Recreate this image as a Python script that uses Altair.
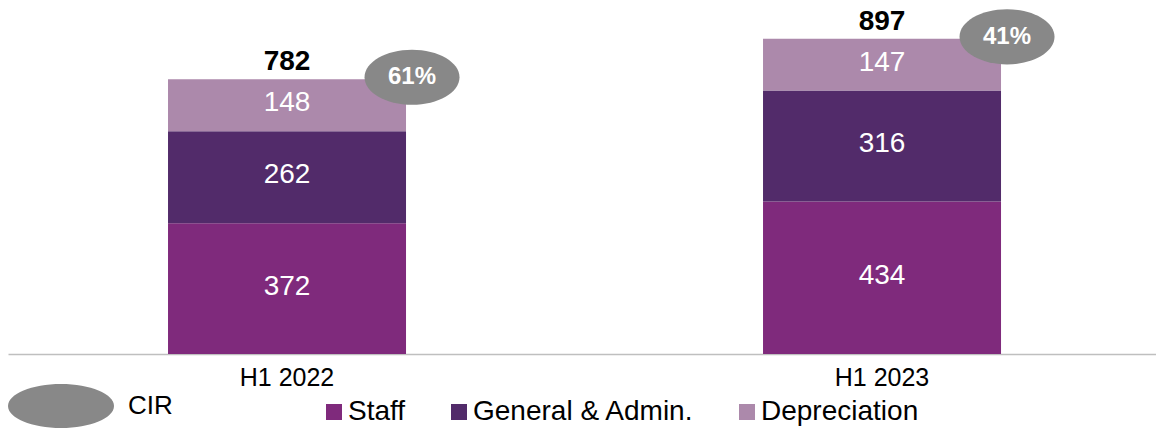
import altair as alt
import pandas as pd

periods = ["H1 2022", "H1 2023"]
categories = ["Staff", "General & Admin.", "Depreciation"]
staff = [372, 434]
gen_admin = [262, 316]
depreciation = [148, 147]
totals = [782, 897]
cir = ["61%", "41%"]
colors = ["#7F2A7C", "#522B6A", "#AC89AB"]
cir_color = "#888888"

rows = []
for i, p in enumerate(periods):
    for j, (c, vals) in enumerate(zip(categories, [staff, gen_admin, depreciation])):
        rows.append({"period": p, "category": c, "value": vals[i], "order": j})
df = pd.DataFrame(rows)
tot_df = pd.DataFrame({"period": periods, "total": totals, "cir": cir, "key": ["CIR"] * len(periods)})

FONT = "Liberation Sans"
ELLIPSE = "M-1,0A1,0.58,0,1,0,1,0A1,0.58,0,1,0,-1,0Z"
ELLIPSE_LEG = "M-1,0A1,0.415,0,1,0,1,0A1,0.415,0,1,0,-1,0Z"

xscale = alt.Scale(paddingInner=0.6, paddingOuter=0.2647, align=0.508)
x = alt.X("period:N", sort=periods, scale=xscale,
          axis=alt.Axis(title=None, labelAngle=0, labelFontSize=25, labelColor="black",
                        labelFont=FONT, ticks=False, domainColor="#BFBFBF",
                        domainWidth=1.5, labelPadding=11))
xs = alt.X("period:N", sort=periods)
yscale = alt.Scale(domain=[0, 962], nice=False, zero=True)

bars = alt.Chart(df).mark_bar().encode(
    x=x,
    y=alt.Y("value:Q", stack="zero", scale=yscale, axis=None),
    color=alt.Color("category:N", sort=categories,
                    scale=alt.Scale(domain=categories, range=colors),
                    legend=alt.Legend(orient="none", legendX=312, legendY=382,
                                      direction="horizontal", title=None,
                                      symbolType="square", symbolSize=256,
                                      symbolStrokeWidth=0, symbolOpacity=1,
                                      labelFontSize=28, labelFont=FONT, labelColor="black",
                                      columnPadding=39, labelOffset=0, padding=0,
                                      labelLimit=400)),
    order=alt.Order("order:Q"),
)

seg_text = alt.Chart(df).transform_stack(
    stack="value", groupby=["period"], sort=[alt.SortField("order")], as_=["y0", "y1"]
).transform_calculate(mid="(datum.y0 + datum.y1) / 2").mark_text(
    color="white", fontSize=28, font=FONT, baseline="middle", dy=-2
).encode(x=xs, y=alt.Y("mid:Q", scale=yscale, axis=None), text="value:Q")

tot_text = alt.Chart(tot_df).mark_text(
    color="black", fontSize=28, font=FONT, fontWeight="bold", baseline="alphabetic", dy=-9
).encode(x=xs, y=alt.Y("total:Q", scale=yscale, axis=None), text="total:Q")

ellipses = alt.Chart(tot_df).mark_point(
    shape=ELLIPSE, filled=True, size=9025, opacity=1, strokeWidth=0, xOffset=6, yOffset=-2
).encode(
    x=alt.X("period:N", sort=periods, bandPosition=1),
    y=alt.Y("total:Q", scale=yscale, axis=None),
    fill=alt.Fill("key:N", scale=alt.Scale(domain=["CIR"], range=[cir_color]),
                  legend=alt.Legend(orient="none", legendX=0, legendY=337, title=None,
                                    symbolType=ELLIPSE_LEG, symbolSize=11236,
                                    symbolStrokeWidth=0, symbolOpacity=1,
                                    labelFontSize=26, labelFont=FONT, labelColor="black",
                                    labelOffset=14, padding=0)),
)

cir_text = alt.Chart(tot_df).mark_text(
    color="white", fontSize=24, font=FONT, fontWeight="bold", baseline="middle", dx=6, dy=-2
).encode(
    x=alt.X("period:N", sort=periods, bandPosition=1),
    y=alt.Y("total:Q", scale=yscale, axis=None),
    text="cir:N",
)

chart = alt.layer(bars, seg_text, tot_text, ellipses, cir_text).resolve_scale(
    color="independent", fill="independent"
).properties(
    width=1148, height=338,
    autosize=alt.AutoSizeParams(type="none"),
    padding={"left": 0, "top": 8, "right": 0, "bottom": 85},
).configure(font=FONT).configure_view(strokeWidth=0, stroke="transparent")

chart.save("out.html", embed_options={"renderer": "svg", "actions": False})
